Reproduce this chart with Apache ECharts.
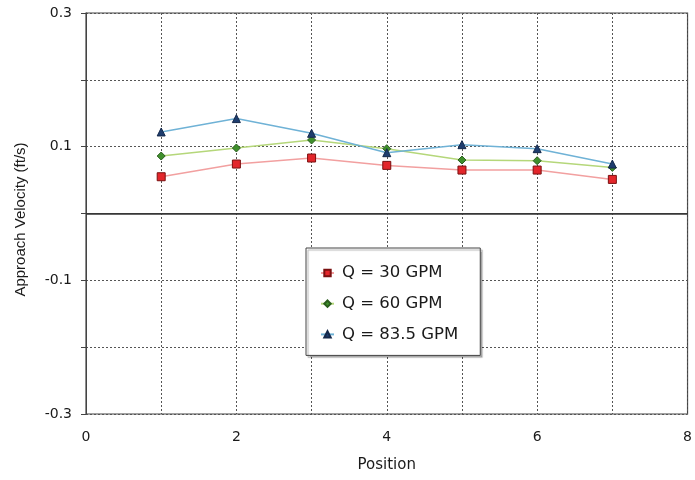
<!DOCTYPE html>
<html>
<head>
<meta charset="utf-8">
<script src="https://cdn.jsdelivr.net/npm/echarts@6/dist/echarts.min.js"></script>
<style>
  html, body { margin: 0; padding: 0; background: #fff; }
  #chart { width: 695px; height: 480px; }
</style>
</head>
<body>
<div id="chart"></div>
<script>
// Measurement positions along the approach
const positions = [1, 2, 3, 4, 5, 6, 7];

// Approach velocity (ft/s) at each position, per flow rate
const q30 = [0.055, 0.074, 0.083, 0.072, 0.065, 0.065, 0.051];
const q60 = [0.086, 0.098, 0.110, 0.097, 0.080, 0.079, 0.069];
const q835 = [0.122, 0.142, 0.120, 0.091, 0.103, 0.097, 0.074];

const seriesNames = ['Q = 30 GPM', 'Q = 60 GPM', 'Q = 83.5 GPM'];

const pairs = vals => positions.map((p, i) => [p, vals[i]]);
const wide = 'DejaVu Sans, Verdana, sans-serif';
const narrow = 'Liberation Sans, Arial, sans-serif';

const chart = echarts.init(document.getElementById('chart'));
chart.setOption({
  animation: false,
  textStyle: { fontFamily: wide },
  grid: {
    left: 86, right: 7, top: 13, bottom: 66,
    show: true, borderColor: '#444', borderWidth: 1.2
  },
  legend: {
    orient: 'vertical',
    left: 306, top: 248,
    padding: [15, 22, 11, 14],
    itemGap: 10.7,
    itemWidth: 13, itemHeight: 8,
    backgroundColor: '#fff',
    borderColor: '#444', borderWidth: 1,
    shadowColor: 'rgba(0,0,0,0.3)', shadowOffsetX: 2, shadowOffsetY: 2, shadowBlur: 1,
    textStyle: { fontFamily: wide, fontSize: 16.5, lineHeight: 20, color: '#1a1a1a', padding: [0, 0, 0, 3] },
    data: seriesNames
  },
  xAxis: {
    type: 'value', min: 0, max: 8, interval: 1,
    name: 'Position', nameLocation: 'middle', nameGap: 44,
    nameTextStyle: { fontFamily: wide, fontSize: 15, color: '#1a1a1a' },
    axisLine: { show: true, lineStyle: { color: '#444' } },
    axisTick: { show: false },
    axisLabel: {
      fontFamily: wide, fontSize: 14, color: '#1a1a1a', margin: 16,
      formatter: v => (Math.round(v) % 2 === 0 ? String(Math.round(v)) : '')
    },
    splitLine: { show: true, lineStyle: { color: '#555', type: [2, 2], width: 1 } }
  },
  yAxis: {
    type: 'value', min: -0.3, max: 0.3, interval: 0.1,
    name: 'Approach Velocity (ft/s)', nameLocation: 'middle', nameGap: 58,
    nameTextStyle: { fontFamily: narrow, fontSize: 15, color: '#1a1a1a', padding: [0, 12, 0, 0] },
    axisLine: { show: true, lineStyle: { color: '#444' } },
    axisTick: { show: true, length: 5, lineStyle: { color: '#444' } },
    axisLabel: {
      fontFamily: wide, fontSize: 14, color: '#1a1a1a', margin: 14,
      formatter: v => {
        const t = Math.round(v * 10);
        return Math.abs(t) % 2 === 1 ? (t / 10).toFixed(1) : '';
      }
    },
    splitLine: { show: true, lineStyle: { color: '#555', type: [2, 2], width: 1 } }
  },
  series: [
    {
      name: seriesNames[0], type: 'line', data: pairs(q30),
      symbol: 'rect', symbolSize: 8,
      lineStyle: { color: '#f2a0a0', width: 1.5 },
      itemStyle: { color: '#e3262b', borderColor: '#7a1010', borderWidth: 1 },
      markLine: {
        silent: true, symbol: 'none', label: { show: false },
        lineStyle: { color: '#333', type: 'solid', width: 1.6 },
        data: [{ yAxis: 0 }]
      },
      z: 3
    },
    {
      name: seriesNames[1], type: 'line', data: pairs(q60),
      symbol: 'diamond', symbolSize: 8,
      lineStyle: { color: '#b5d77a', width: 1.5 },
      itemStyle: { color: '#3f8f2c', borderColor: '#2a5e1d', borderWidth: 1 },
      z: 4
    },
    {
      name: seriesNames[2], type: 'line', data: pairs(q835),
      symbol: 'triangle', symbolSize: 8,
      lineStyle: { color: '#6fb2d6', width: 1.5 },
      itemStyle: { color: '#1e3d6e', borderColor: '#14284a', borderWidth: 1 },
      z: 5
    }
  ]
});
</script>
</body>
</html>
